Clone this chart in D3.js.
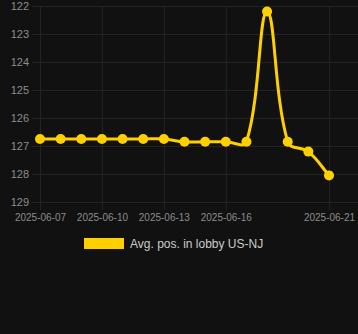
<!DOCTYPE html>
<html>
  <head>
    <meta charset="utf-8">
    <title>Avg. pos. in lobby US-NJ</title>
    <script src="https://cdn.jsdelivr.net/npm/d3@7/dist/d3.min.js"></script>
    <style>
      body { margin: 0; background: #111111; }
      svg { display: block; font-family: "Liberation Sans", Arial, sans-serif; }
    </style>
  </head>
  <body>
  <script>

    // Data
    var dates = ["2025-06-07", "2025-06-08", "2025-06-09", "2025-06-10", "2025-06-11",
                 "2025-06-12", "2025-06-13", "2025-06-14", "2025-06-15", "2025-06-16",
                 "2025-06-17", "2025-06-18", "2025-06-19", "2025-06-20", "2025-06-21"];
    var positions = [126.75, 126.75, 126.75, 126.75, 126.75, 126.75, 126.75,
                     126.85, 126.85, 126.85, 126.85, 122.2, 126.85, 127.2, 128.05];
    var xTicks = ["2025-06-07", "2025-06-10", "2025-06-13", "2025-06-16", "2025-06-21"];
    var yTicks = [122, 123, 124, 125, 126, 127, 128, 129];
    var seriesName = "Avg. pos. in lobby US-NJ";

    var width = 358, height = 334;
    var area = { left: 40, right: 329, top: 6, bottom: 202 };
    var gridRight = 358;
    var gridColor = "#242424";
    var lineColor = "#ffd000";

    var parse = d3.utcParse("%Y-%m-%d");
    var points = dates.map(function (d, i) { return { date: parse(d), value: positions[i] }; });

    var svg = d3.select("body").append("svg")
        .attr("width", width)
        .attr("height", height);

    var x = d3.scaleUtc()
        .domain(d3.extent(points, function (d) { return d.date; }))
        .range([area.left, area.right]);

    // position 122 sits at the top
    var y = d3.scaleLinear()
        .domain([122, 129])
        .range([area.top, area.bottom]);

    // horizontal grid + y labels
    var yAxis = svg.append("g")
        .attr("transform", "translate(" + area.left + ",0)")
        .call(d3.axisLeft(y).tickValues(yTicks).tickSizeOuter(0).tickFormat(d3.format("d")));
    yAxis.select(".domain").remove();
    yAxis.selectAll(".tick line").attr("x1", -8).attr("x2", gridRight - area.left).attr("stroke", gridColor);
    yAxis.selectAll(".tick text").attr("fill", "#8c8c8c").attr("font-size", 11).attr("x", -11);

    // vertical grid + x labels
    var xAxis = svg.append("g")
        .attr("transform", "translate(0," + area.bottom + ")")
        .call(d3.axisBottom(x).tickValues(xTicks.map(parse)).tickSizeOuter(0)
              .tickFormat(d3.utcFormat("%Y-%m-%d")));
    xAxis.select(".domain").remove();
    xAxis.selectAll(".tick line").attr("y1", -(area.bottom - area.top)).attr("y2", 8).attr("stroke", gridColor);
    xAxis.selectAll(".tick text").attr("fill", "#8c8c8c").attr("font-size", 10).attr("y", 12);

    // smooth line, bezier control points like a tension 0.4 spline
    var tension = 0.4;
    var px = points.map(function (d) { return [x(d.date), y(d.value)]; });
    function clampX(v) { return Math.max(area.left, Math.min(area.right, v)); }
    function clampY(v) { return Math.max(area.top, Math.min(area.bottom, v)); }
    var ctrl = px.map(function (cur, i) {
      var prev = px[i - 1] || cur, next = px[i + 1] || cur;
      var d01 = Math.hypot(cur[0] - prev[0], cur[1] - prev[1]);
      var d12 = Math.hypot(next[0] - cur[0], next[1] - cur[1]);
      var s01 = d01 / (d01 + d12) || 0, s12 = d12 / (d01 + d12) || 0;
      var fa = tension * s01, fb = tension * s12;
      return {
        before: [clampX(cur[0] - fa * (next[0] - prev[0])), clampY(cur[1] - fa * (next[1] - prev[1]))],
        after: [clampX(cur[0] + fb * (next[0] - prev[0])), clampY(cur[1] + fb * (next[1] - prev[1]))]
      };
    });
    var path = d3.path();
    path.moveTo(px[0][0], px[0][1]);
    for (var i = 1; i < px.length; i++) {
      path.bezierCurveTo(ctrl[i - 1].after[0], ctrl[i - 1].after[1],
                         ctrl[i].before[0], ctrl[i].before[1], px[i][0], px[i][1]);
    }

    svg.append("path")
        .attr("d", path.toString())
        .attr("fill", "none")
        .attr("stroke", lineColor)
        .attr("stroke-width", 3);

    svg.selectAll("circle.pt")
        .data(points)
        .enter()
        .append("circle")
        .attr("class", "pt")
        .attr("cx", function (d) { return x(d.date); })
        .attr("cy", function (d) { return y(d.value); })
        .attr("r", 5)
        .attr("fill", lineColor);

    // legend
    var legend = svg.append("g").attr("transform", "translate(84,238)");
    legend.append("rect")
        .attr("width", 40)
        .attr("height", 11)
        .attr("fill", lineColor);
    legend.append("text")
        .attr("x", 46)
        .attr("y", 5.5)
        .attr("dy", "0.35em")
        .attr("fill", "#cccccc")
        .attr("font-size", 12)
        .text(seriesName);

  </script>
  </body>
</html>
